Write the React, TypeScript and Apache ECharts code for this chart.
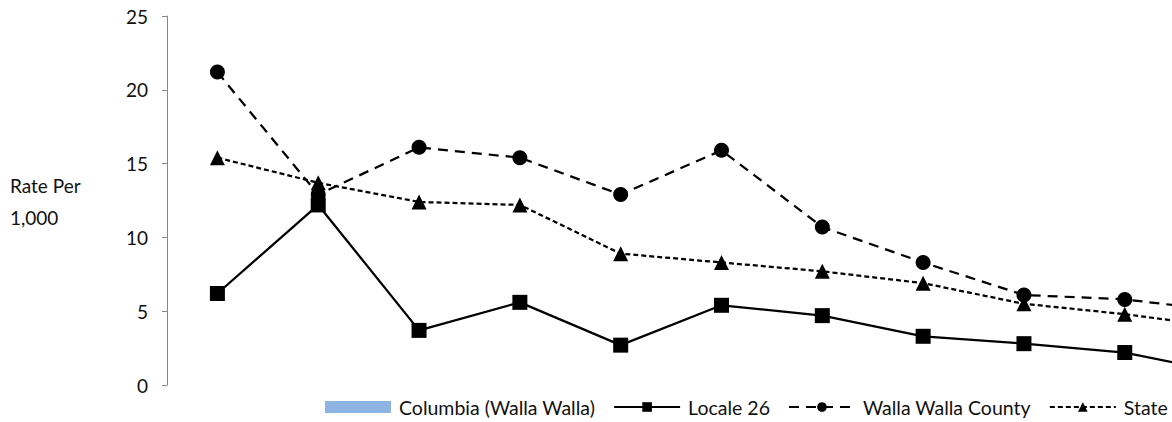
import React, { useEffect, useRef } from "react";
import * as echarts from "echarts";

const categories = ["1", "2", "3", "4", "5", "6", "7", "8", "9", "10", "11"];
const columbia: (number | null)[] = [null, null, null, null, null, null, null, null, null, null, null];
const locale26 = [6.2, 12.2, 3.7, 5.6, 2.7, 5.4, 4.7, 3.3, 2.8, 2.2, 0.8];
const wallaWallaCounty = [21.2, 12.9, 16.1, 15.4, 12.9, 15.9, 10.7, 8.3, 6.1, 5.8, 5.0];
const state = [15.4, 13.7, 12.4, 12.2, 8.9, 8.3, 7.7, 6.9, 5.5, 4.8, 3.9];
const yTicks = [0, 5, 10, 15, 20, 25];

const FONT = "Lato";
const TEXT = "#111111";

export default function App() {
  const ref = useRef<HTMLDivElement>(null);
  useEffect(() => {
    if (!ref.current) return;
    const chart = echarts.init(ref.current, undefined, { renderer: "svg" });
    chart.setOption({
      animation: false,
      textStyle: { fontFamily: FONT },
      grid: { left: 167, right: 24, top: 16, bottom: 37, containLabel: false },
      xAxis: {
        type: "category",
        data: categories,
        boundaryGap: true,
        axisLine: { show: false },
        axisTick: { show: false },
        axisLabel: { show: false },
        splitLine: { show: false },
      },
      yAxis: {
        type: "value",
        min: yTicks[0],
        max: yTicks[yTicks.length - 1],
        interval: 5,
        axisLine: { show: true, lineStyle: { color: "#868686", width: 1 } },
        axisTick: { show: true, length: 5, lineStyle: { color: "#868686" } },
        axisLabel: { color: TEXT, fontSize: 19, margin: 19, fontFamily: FONT },
        splitLine: { show: false },
      },
      legend: {
        left: 320,
        top: 392,
        itemWidth: 66,
        itemHeight: 12,
        itemGap: 18,
        textStyle: { color: TEXT, fontSize: 19.5, fontFamily: FONT, padding: [0, 0, 0, 3] },
        data: [
          { name: "Columbia (Walla Walla)", icon: "rect" },
          "Locale 26",
          "Walla Walla County",
          "State",
        ],
      },
      graphic: [
        {
          type: "text",
          left: 10,
          top: 169,
          style: {
            text: "Rate Per\n1,000",
            fontSize: 19,
            lineHeight: 32,
            fill: TEXT,
            fontFamily: FONT,
          },
        },
      ],
      series: [
        {
          name: "Columbia (Walla Walla)",
          type: "bar",
          data: columbia,
          itemStyle: { color: "#8EB4E3" },
        },
        {
          name: "Locale 26",
          type: "line",
          data: locale26,
          symbol: "rect",
          symbolSize: 15,
          itemStyle: { color: "#000000" },
          lineStyle: { color: "#000000", width: 2.25, type: "solid" },
        },
        {
          name: "Walla Walla County",
          type: "line",
          data: wallaWallaCounty,
          symbol: "circle",
          symbolSize: 15,
          itemStyle: { color: "#000000" },
          lineStyle: { color: "#000000", width: 2.25, type: [10, 7] },
        },
        {
          name: "State",
          type: "line",
          data: state,
          symbol: "triangle",
          symbolSize: 15,
          itemStyle: { color: "#000000" },
          lineStyle: { color: "#000000", width: 2.25, type: [5, 3] },
        },
      ],
    });
    return () => chart.dispose();
  }, []);
  return (
    <div
      style={{
        position: "absolute",
        left: 0,
        top: 0,
        width: 1172,
        height: 422,
        overflow: "hidden",
        background: "#ffffff",
      }}
    >
      <div ref={ref} style={{ width: 1300, height: 422 }} />
    </div>
  );
}
